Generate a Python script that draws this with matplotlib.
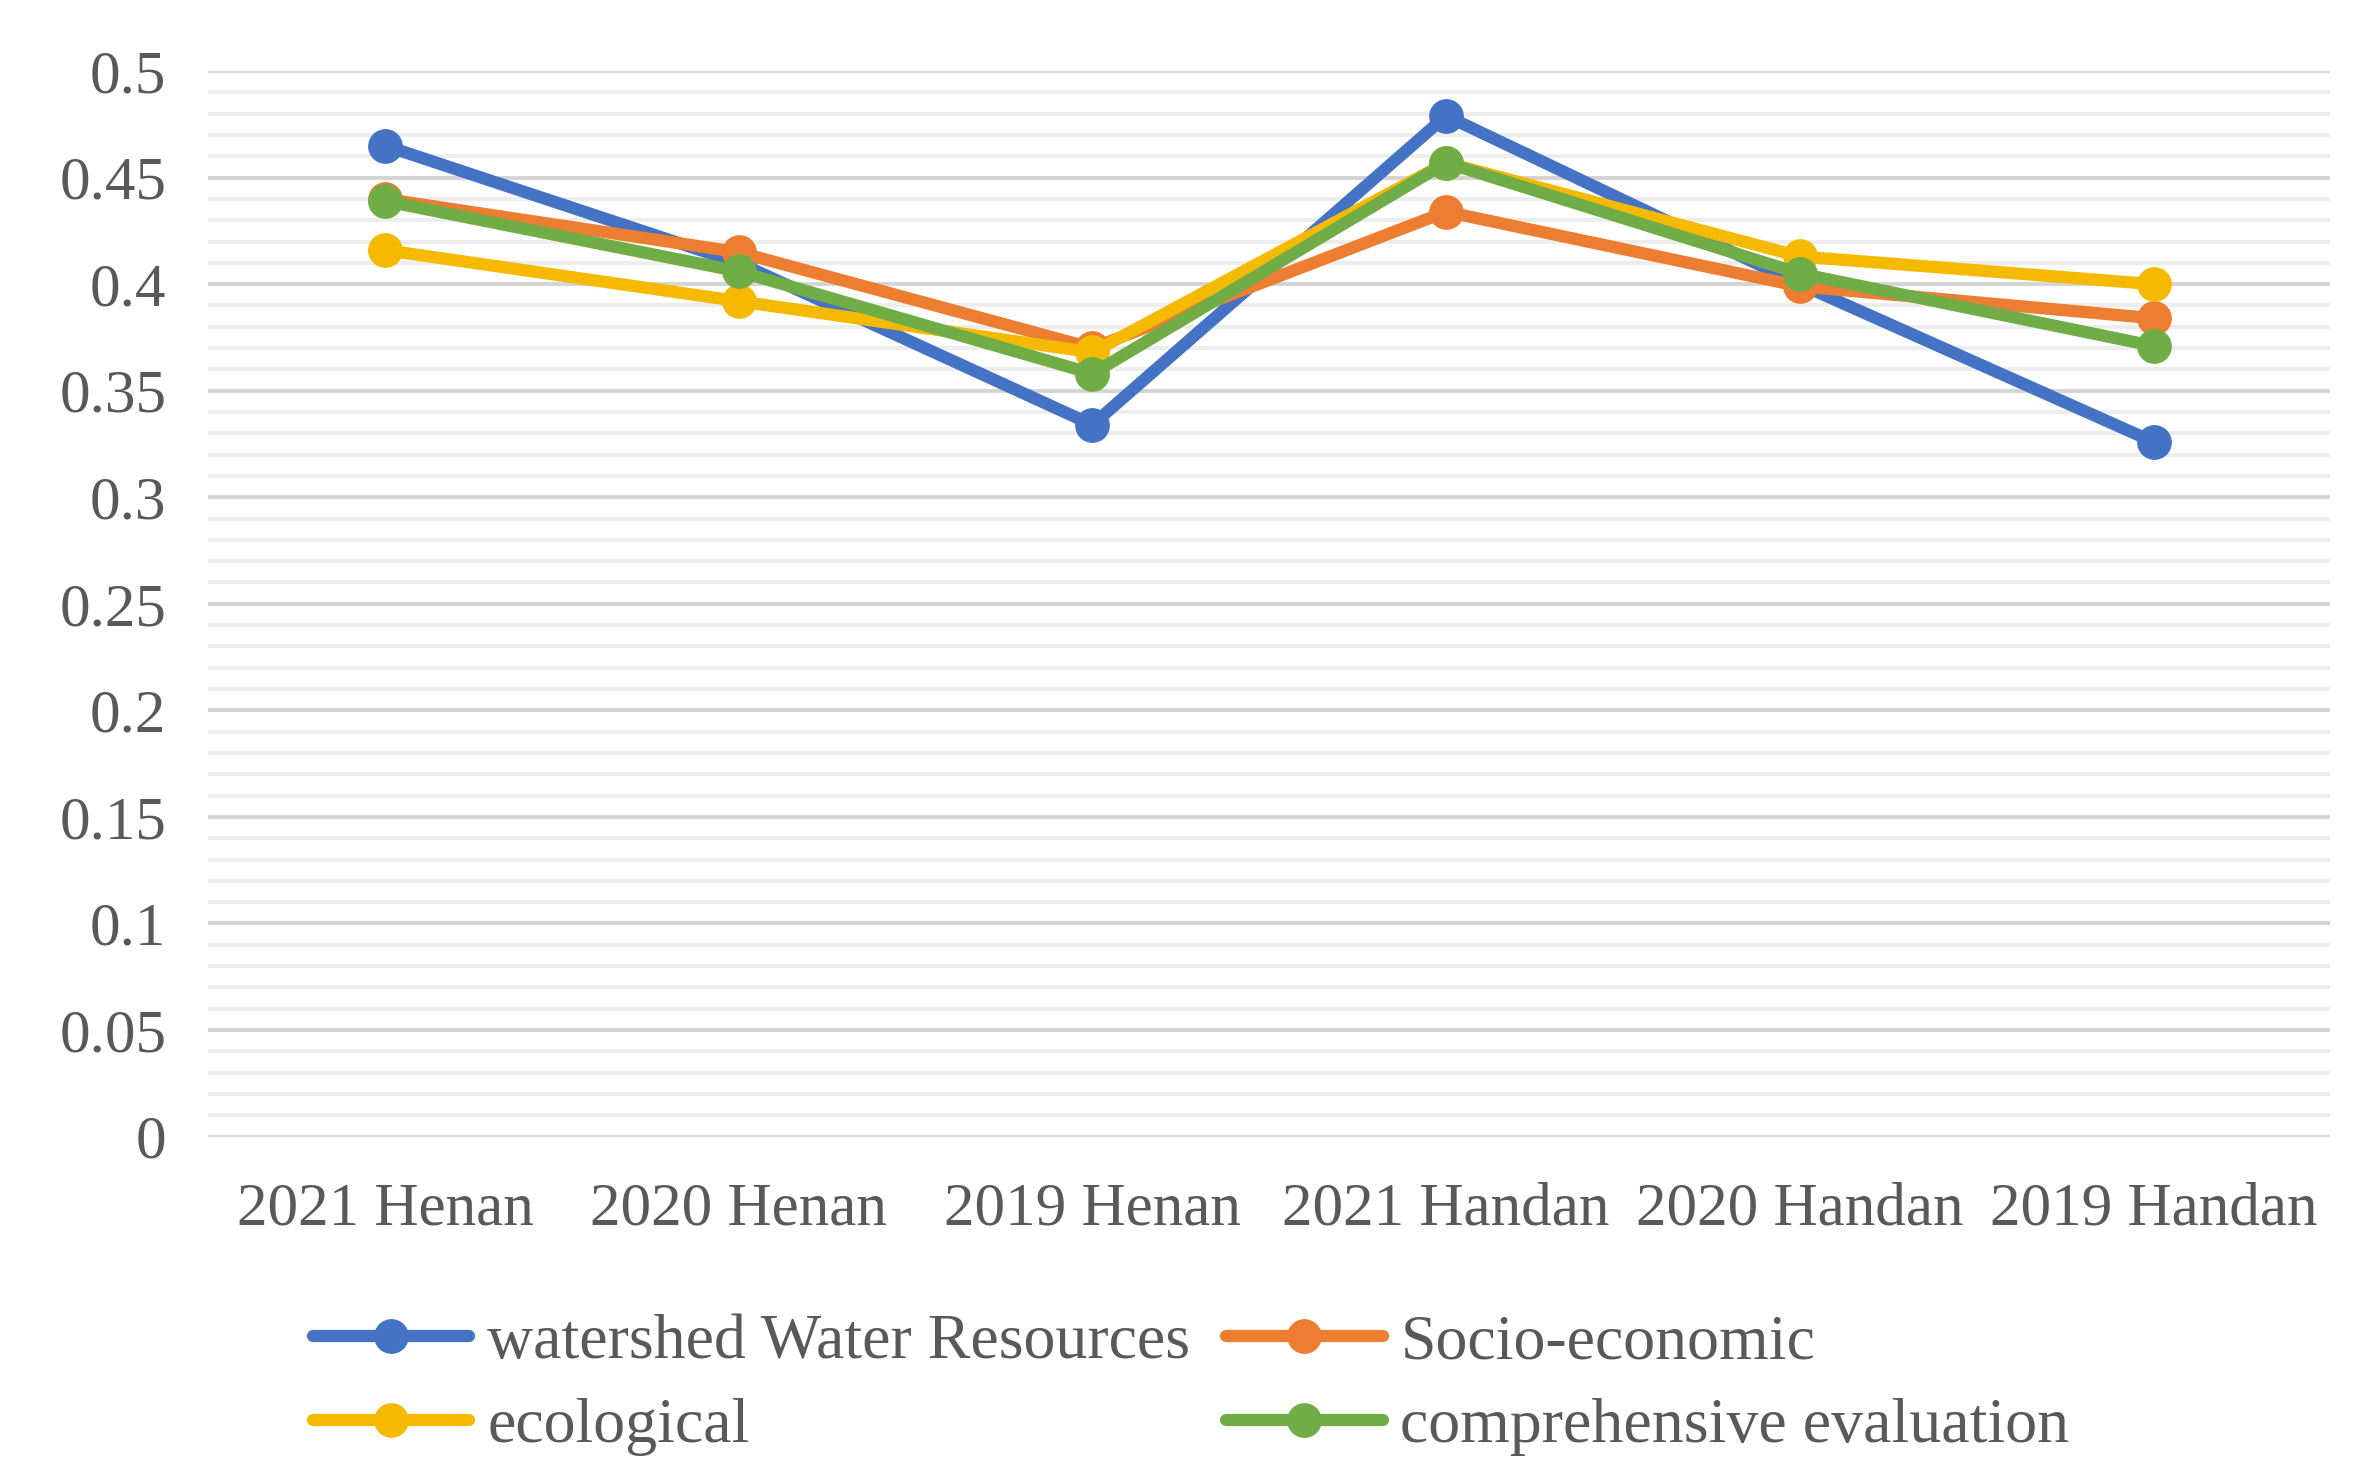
import matplotlib
matplotlib.use("Agg")
import matplotlib.pyplot as plt
from matplotlib.ticker import MultipleLocator, FixedLocator

categories = ["2021 Henan", "2020 Henan", "2019 Henan", "2021 Handan", "2020 Handan", "2019 Handan"]
water = [0.465, 0.410, 0.334, 0.479, 0.400, 0.326]
socio = [0.440, 0.415, 0.370, 0.434, 0.399, 0.384]
ecological = [0.416, 0.392, 0.368, 0.457, 0.413, 0.400]
comprehensive = [0.439, 0.406, 0.358, 0.457, 0.405, 0.371]
series_names = ["watershed Water Resources", "Socio-economic", "ecological", "comprehensive evaluation"]
yticks = [0, 0.05, 0.1, 0.15, 0.2, 0.25, 0.3, 0.35, 0.4, 0.45, 0.5]
ytick_labels = ["0", "0.05", "0.1", "0.15", "0.2", "0.25", "0.3", "0.35", "0.4", "0.45", "0.5"]

colors = ["#4472C4", "#ED7D31", "#F5BA00", "#70AD47"]
text_color = "#595959"

plt.rcParams['font.family'] = ['Liberation Serif', 'DejaVu Serif']

fig = plt.figure(figsize=(23.7, 14.81), dpi=100)
ax = fig.add_axes([0.0878, 0.2326, 0.8955, 0.7194])

x = list(range(len(categories)))
handles = []
for vals, name, c in zip([water, socio, ecological, comprehensive], series_names, colors):
    h, = ax.plot(x, vals, color=c, lw=8.8, marker='o', markersize=24, label=name,
                 solid_capstyle='round', solid_joinstyle='round', zorder=3)
    handles.append(h)

ax.set_xlim(-0.5, len(categories) - 0.5)
ax.set_ylim(0, 0.5)
ax.yaxis.set_major_locator(FixedLocator(yticks))
ax.set_yticklabels(ytick_labels)
ax.yaxis.set_minor_locator(MultipleLocator(0.01))
ax.set_xticks(x)
ax.set_xticklabels(categories)

ax.grid(which='major', axis='y', color='#D4D4D4', lw=2.8, zorder=0)
ax.grid(which='minor', axis='y', color='#EDEDED', lw=2.8, zorder=0)
ax.set_axisbelow(True)
for s in ax.spines.values():
    s.set_visible(False)
ax.tick_params(axis='both', which='both', length=0, labelsize=44, colors=text_color)
ax.tick_params(axis='y', pad=30)
ax.tick_params(axis='x', pad=33)

# row-major order: row1 = water, socio; row2 = ecological, comprehensive
order = [0, 2, 1, 3]
leg = fig.legend([handles[i] for i in order], [series_names[i] for i in order],
                 loc='upper left', bbox_to_anchor=(0.132, 0.113), ncol=2, frameon=False,
                 fontsize=46, handlelength=2.45, handletextpad=0.28, columnspacing=0.56,
                 labelspacing=0.39, borderaxespad=0, borderpad=0)
for t in leg.get_texts():
    t.set_color(text_color)

fig.savefig("out.png", dpi=100, facecolor='white')
